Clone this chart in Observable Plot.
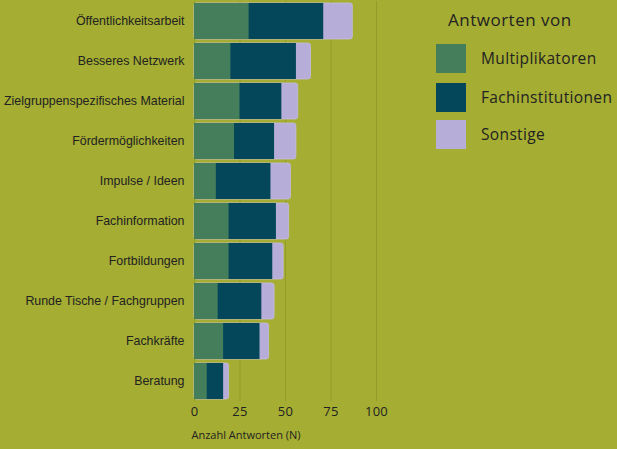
<!DOCTYPE html>
<html>
<head>
<meta charset="utf-8">
<script src="https://cdn.jsdelivr.net/npm/d3@7"></script>
<script src="https://cdn.jsdelivr.net/npm/@observablehq/plot@0.6"></script>
<style>
  html, body { margin: 0; padding: 0; background: #a5ad32; }
  #wrap { position: relative; width: 617px; height: 449px; background: #a5ad32; overflow: hidden; }
  #chart svg { display: block; }
  #chart [aria-label^="y-axis"] text { font-family: "Liberation Sans", Arial, sans-serif; font-size: 12.4px; fill: #222; }
  #chart [aria-label^="x-axis"] text { font-family: "Open Sans", sans-serif; font-size: 13px; fill: #222; letter-spacing: 0.3px; }
  .legend { position: absolute; left: 0; top: 0; width: 617px; height: 449px; font-family: "Open Sans", sans-serif; color: #222; }
  .lg-title { position: absolute; left: 448px; top: 8px; font-size: 17px; letter-spacing: 0.5px; white-space: nowrap; }
  .sw { position: absolute; left: 436px; width: 30px; height: 29px; }
  .lab { position: absolute; left: 481px; font-size: 15.5px; letter-spacing: 0.35px; white-space: nowrap; line-height: 20px; }
</style>
</head>
<body>
<div id="wrap">
  <div id="chart"></div>
  <div class="legend" id="legend"></div>
</div>
<script>
const categories = [
  "Öffentlichkeitsarbeit",
  "Besseres Netzwerk",
  "Zielgruppenspezifisches Material",
  "Fördermöglichkeiten",
  "Impulse / Ideen",
  "Fachinformation",
  "Fortbildungen",
  "Runde Tische / Fachgruppen",
  "Fachkräfte",
  "Beratung"
];
const multiplikatoren   = [30, 20, 25, 22, 12, 19, 19, 13, 16, 7];
const fachinstitutionen = [41, 36, 23, 22, 30, 26, 24, 24, 20, 9];
const sonstige          = [16,  8,  9, 12, 11,  7,  6,  7,  5, 3];
const seriesNames = ["Multiplikatoren", "Fachinstitutionen", "Sonstige"];
const seriesColors = ["#457e5b", "#04475a", "#b6aed8"];
const xTicks = [0, 25, 50, 75, 100];
const xLabel = "Anzahl Antworten (N)";

const rows = categories.map((c, i) => ({
  cat: c,
  m: multiplikatoren[i],
  f: fachinstitutionen[i],
  s: sonstige[i]
}));

const chart = Plot.plot({
  width: 617,
  height: 449,
  marginLeft: 194,
  marginRight: 241,
  marginTop: 1,
  marginBottom: 48,
  style: { background: "transparent", color: "#222", overflow: "visible" },
  x: {
    domain: [0, 100],
    ticks: xTicks,
    tickSize: 0,
    tickPadding: 5,
    label: null
  },
  y: {
    domain: categories,
    paddingInner: 0.1,
    paddingOuter: 0.05,
    tickSize: 0,
    tickPadding: 10,
    label: null
  },
  marks: [
    Plot.ruleX(xTicks, { stroke: "#939b29", strokeWidth: 1 }),
    Plot.barX(rows, { y: "cat", x1: 0, x2: d => d.m + d.f + d.s, fill: seriesColors[2], stroke: "#c4bde0", strokeWidth: 0.8, rx: 2.5 }),
    Plot.barX(rows, { y: "cat", x1: 0, x2: d => d.m + d.f, fill: seriesColors[1] }),
    Plot.barX(rows, { y: "cat", x1: 0, x2: d => d.m, fill: seriesColors[0] }),
    Plot.text([xLabel], {
      frameAnchor: "bottom-left",
      text: d => d,
      textAnchor: "start",
      dx: -3,
      dy: 37,
      fontSize: 11,
      fontFamily: "Open Sans, sans-serif",
      fill: "#222"
    })
  ]
});
document.getElementById("chart").appendChild(chart);

// legend
const legend = document.getElementById("legend");
const t = document.createElement("div");
t.className = "lg-title";
t.textContent = "Antworten von";
legend.appendChild(t);
const swTops = [44, 83, 120];
seriesNames.forEach((name, i) => {
  const sw = document.createElement("div");
  sw.className = "sw";
  sw.style.top = swTops[i] + "px";
  sw.style.background = seriesColors[i];
  legend.appendChild(sw);
  const lab = document.createElement("div");
  lab.className = "lab";
  lab.style.top = (swTops[i] + 4) + "px";
  lab.textContent = name;
  legend.appendChild(lab);
});
</script>
</body>
</html>
